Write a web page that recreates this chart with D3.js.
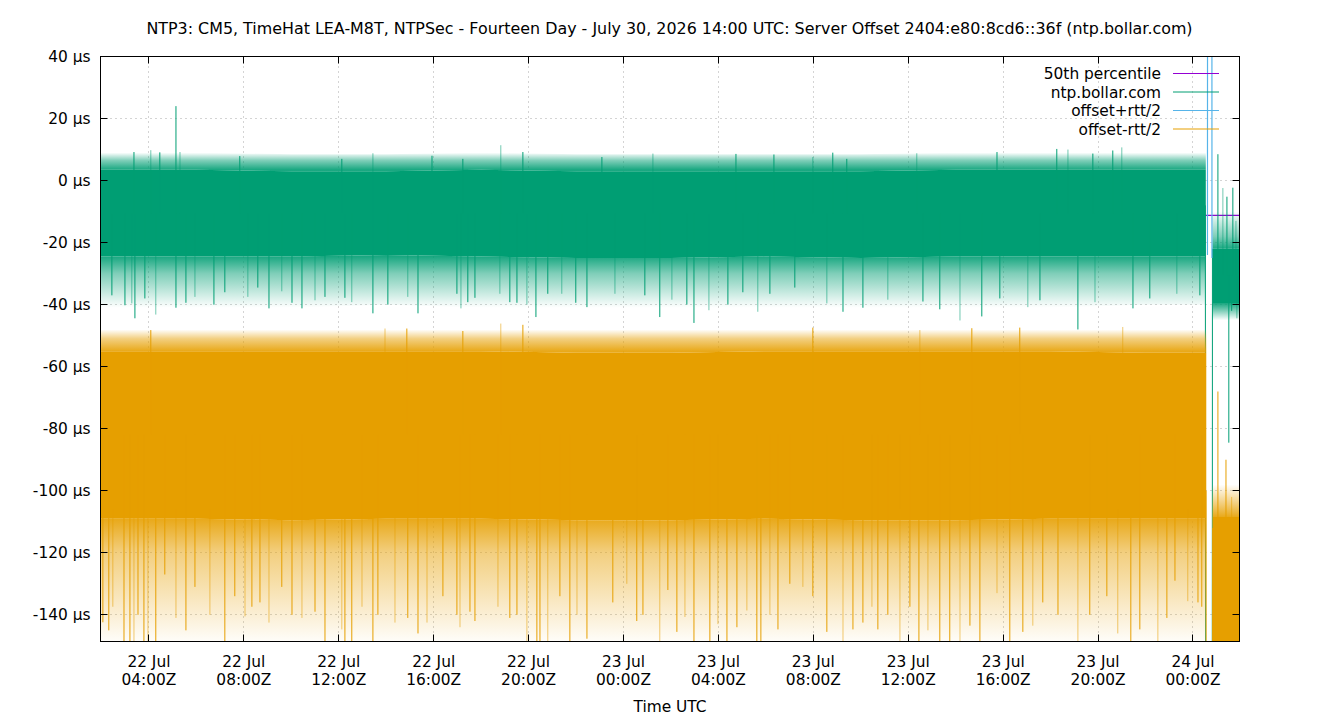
<!DOCTYPE html>
<html>
<head>
<meta charset="utf-8">
<script src="https://cdn.jsdelivr.net/npm/d3@7/dist/d3.min.js"></script>
<style>
body { margin: 0; background: #fff; }
svg text { font-family: "DejaVu Sans", sans-serif; font-size: 15.4px; fill: #000; }
svg text.title { font-size: 15.9px; }
</style>
</head>
<body>
<div id="chart"></div>
<script>
// 1: DATA (time = hours since 22 Jul 2026 00:00Z, values in µs)
const title = "NTP3: CM5, TimeHat LEA-M8T, NTPSec - Fourteen Day - July 30, 2026 14:00 UTC: Server Offset 2404:e80:8cd6::36f (ntp.bollar.com)";
const hourRange = [1.96, 49.96];
const yRange = [-148.6, 40];
const yTickValues = [40, 20, 0, -20, -40, -60, -80, -100, -120, -140];
const seriesNames = ["50th percentile", "ntp.bollar.com", "offset+rtt/2", "offset-rtt/2"];
const seriesColors = ["#9400d3", "#009e73", "#56b4e9", "#e69f00"];

const pct50 = -11.2;

// dense band of samples: [t, coreHi, coreLo, fringeHi, fringeLo, outerHi, outerLo]
const greenBand1 = [
  [1.96, 3.5, -24.5, 6.5, -30, 9, -41], [6, 3.5, -24.5, 6.5, -30, 9, -41], [10, 3, -24.5, 6, -30, 8.5, -41],
  [14, 3, -24, 6, -29.5, 8.5, -40], [18, 3.5, -24.5, 6.5, -30, 9, -41], [22, 3, -25, 6, -30.5, 8.5, -42],
  [26, 3, -25, 6, -30.5, 8.5, -42], [30, 3, -24.5, 6, -30, 8.5, -41], [34, 3, -25, 6, -30.5, 8.5, -42],
  [38, 3.5, -24.5, 6.5, -30, 9, -42], [42, 3.5, -24.5, 6.5, -30, 9, -41], [46, 3.5, -24.5, 6.5, -30, 9, -40],
  [48.54, 3.5, -24.5, 6.5, -30, 9, -40]
];
const greenBand2 = [[48.82, -22, -39.5, -18, -42, -10, -45], [49.96, -22, -39.5, -18, -42, -10, -45]];
const orangeBand1 = [
  [1.96, -55, -109, -51, -120, -48, -150], [6, -55, -109, -51, -120, -48, -150], [10, -55, -109.5, -51.5, -120, -48, -150],
  [14, -55, -109, -51, -120, -48, -150], [18, -55, -109, -51, -120, -48, -150], [22, -55.5, -109.5, -51.5, -121, -48, -152],
  [26, -55.5, -109.5, -51.5, -121, -48, -152], [30, -55, -109, -51, -120, -48, -150], [34, -55, -109.5, -51, -121, -48, -152],
  [38, -55, -109.5, -51, -121, -48, -152], [42, -55, -109, -51, -120, -48, -150], [46, -55.5, -109, -51.5, -120, -48, -150],
  [48.56, -55.5, -109, -51.5, -120, -48, -150]
];
const orangeBand2 = [[48.82, -108.5, -175, -104, -175, -98, -175], [49.96, -108.5, -175, -104, -175, -98, -175]];

// isolated excursions beyond the band: [t, value]
const greenSpikes = [
  [3.37, 9.2], [4.08, 9.8], [4.46, 9.1], [5.14, 24.0], [5.31, 9.2], [7.83, 7.9], [12.13, 7.0],
  [13.44, 8.8], [15.93, 8.0], [17.23, 7.0], [18.83, 11.4], [19.76, 9.2], [23.09, 7.6], [25.24, 8.7],
  [28.74, 8.6], [30.34, 8.4], [31.98, 7.6], [32.82, 9.0], [33.41, 7.0], [36.36, 8.8], [39.74, 9.2],
  [42.26, 10.2], [42.73, 10.0], [43.78, 8.7], [44.62, 9.7], [45.00, 10.7],
  [2.44, -37], [2.99, -40.2], [3.28, -39.6], [3.41, -44.4], [3.83, -38], [4.29, -43.2], [5.14, -41],
  [5.56, -39.4], [5.94, -37.5], [6.74, -40], [7.20, -36], [8.17, -37.5], [8.59, -34.5], [9.06, -41.2],
  [9.60, -35.7], [10.03, -39.4], [10.45, -41.2], [11.00, -38.6], [11.42, -37.5], [12.26, -37.8],
  [12.55, -39.2], [13.44, -42.8], [14.07, -40], [14.91, -37.5], [15.34, -42.8], [16.98, -36.5],
  [17.15, -41.2], [17.44, -39.2], [17.74, -37.8], [18.79, -36.5], [19.21, -39.2], [19.51, -39.4],
  [19.93, -40], [20.31, -44], [20.81, -36.5], [21.40, -36.5], [21.99, -39.4], [22.46, -40.8],
  [23.64, -36.5], [24.90, -37], [25.53, -44], [26.04, -38.4], [26.67, -40], [26.97, -45.9],
  [27.60, -41.8], [28.40, -40], [29.03, -36], [29.66, -42.3], [30.17, -36.5], [31.22, -34.5],
  [32.57, -39.6], [33.25, -42.3], [34.09, -41], [35.14, -38.4], [36.62, -39], [37.33, -41.5],
  [38.18, -45.1], [39.10, -43.8], [39.86, -38], [41.04, -40.8], [41.55, -38.6], [43.15, -48],
  [43.87, -39.2], [45.47, -41.2], [46.18, -38], [47.32, -36.5], [48.29, -37],
  [49.05, 8.5], [49.26, -2.4], [49.43, -5.2], [49.68, -2.3], [49.81, -13],
  [49.51, -84.5], [49.63, -42], [49.85, -44.4]
];
const orangeSpikes = [
  [4.08, -48.2], [13.95, -47.7], [14.87, -47.7], [17.23, -48.5], [18.83, -46.1], [19.76, -46.5],
  [31.98, -47.4], [36.49, -48.2], [38.68, -47.6], [40.70, -47.4], [45.04, -47.2],
  [49.05, -68], [49.39, -90], [49.63, -102],
  [2.06, -142.4], [2.31, -145], [2.48, -137.4], [2.95, -160], [3.20, -160], [3.37, -160], [3.54, -140],
  [3.79, -160], [3.96, -160], [4.29, -160], [4.67, -127], [5.14, -141], [5.56, -145], [5.94, -131],
  [6.57, -140], [7.20, -160], [7.62, -134], [8.05, -140.5], [8.34, -137.4], [8.68, -136], [9.06, -142.5],
  [9.60, -131], [10.03, -140], [10.45, -141], [11.00, -139], [11.42, -160], [12.13, -144.7], [12.26, -160],
  [12.55, -160], [12.98, -137.4], [13.44, -160], [13.65, -140], [14.37, -142.5], [14.91, -141],
  [15.34, -146], [15.72, -142.5], [16.39, -134], [16.98, -140], [17.11, -144], [17.53, -139],
  [17.74, -142], [18.71, -137.4], [19.21, -141], [19.51, -140], [19.93, -160], [20.35, -160],
  [20.48, -160], [20.81, -160], [21.32, -134], [21.74, -160], [22.04, -140], [22.46, -147.7],
  [23.55, -136], [24.14, -130], [24.56, -142], [24.82, -140], [25.53, -160], [25.87, -132],
  [26.25, -145.5], [26.59, -140.7], [26.97, -160], [27.64, -160], [27.98, -143], [28.36, -160],
  [28.78, -144], [29.20, -138.6], [29.62, -160], [29.79, -160], [30.17, -140], [30.51, -144.7],
  [31.01, -130], [31.56, -131], [31.98, -134], [32.57, -145.5], [33.25, -160], [33.67, -144.7],
  [34.09, -142.5], [34.47, -137.4], [34.72, -144.7], [35.14, -140], [35.65, -160], [36.07, -137.4],
  [36.45, -160], [36.83, -145], [37.33, -160], [37.75, -160], [38.18, -160], [38.60, -143.5],
  [39.02, -160], [39.74, -133], [40.28, -160], [40.83, -145.5], [41.25, -143.5], [41.67, -136],
  [42.31, -140], [43.15, -160], [43.65, -140], [44.37, -134], [44.83, -146], [45.38, -160],
  [45.76, -144.7], [46.52, -160], [46.90, -141], [47.24, -129], [47.78, -135.6], [48.21, -136],
  [48.37, -137.4]
];

// the jump near 24 Jul 00:40Z
const greenJump = [[48.52, -8], [48.57, -600], [48.79, -600], [48.82, -22]];
const blueJump = [[48.61, -24], [48.64, 900], [48.77, 900], [48.80, -25]];
const orangeJump = [[48.55, -100], [48.58, -600], [48.80, -600], [48.83, -112]];

// 2: LAYOUT
const margin = { top: 56, right: 100, bottom: 79, left: 100 };
const width = 1139;
const height = 585;

const svg = d3.select("#chart").append("svg")
  .attr("width", 1340).attr("height", 720);

const g = svg.append("g")
  .attr("transform", `translate(${margin.left + 0.5},${margin.top + 0.5})`);

const base = Date.UTC(2026, 6, 22, 0, 0);
const toDate = h => new Date(base + h * 3600e3);

const x = d3.scaleUtc().domain(hourRange.map(toDate)).range([0, width]);
const y = d3.scaleLinear().domain(yRange).range([height, 0]);
const xh = h => x(toDate(h));

const defs = svg.append("defs");
defs.append("clipPath").attr("id", "plotclip")
  .append("rect").attr("width", width).attr("height", height);

// 3: GRID
const xTicks = x.ticks(d3.utcHour.every(4));
const grid = g.append("g").attr("stroke", "#a8a8a8").attr("stroke-width", 1).attr("stroke-dasharray", "1,4");
grid.selectAll(".gx").data(xTicks).enter().append("line")
  .attr("x1", d => Math.round(x(d))).attr("x2", d => Math.round(x(d)))
  .attr("y1", 0).attr("y2", height);
grid.selectAll(".gy").data(yTickValues).enter().append("line")
  .attr("x1", 0).attr("x2", width)
  .attr("y1", d => Math.round(y(d))).attr("y2", d => Math.round(y(d)));

// 4: DATA
const plot = g.append("g").attr("clip-path", "url(#plotclip)");
const line = d3.line().x(d => xh(d[0])).y(d => y(d[1]));

plot.append("path").datum([[hourRange[0], pct50], [hourRange[1], pct50]])
  .attr("d", line).attr("fill", "none").attr("stroke", seriesColors[0]).attr("stroke-width", 1.3);

let gradId = 0;
// vertical fade from the band edge out to the furthest hairs
function fade(color, v0, v1, v2) {
  const id = "fade" + (gradId++);
  const gr = defs.append("linearGradient").attr("id", id)
    .attr("gradientUnits", "userSpaceOnUse")
    .attr("x1", 0).attr("x2", 0).attr("y1", y(v0)).attr("y2", y(v2));
  const mid = (v1 - v0) / (v2 - v0);
  gr.append("stop").attr("offset", 0).attr("stop-color", color).attr("stop-opacity", 0.9);
  gr.append("stop").attr("offset", mid).attr("stop-color", color).attr("stop-opacity", 0.5);
  gr.append("stop").attr("offset", 1).attr("stop-color", color).attr("stop-opacity", 0);
  return `url(#${id})`;
}

function drawBand(bands, spikes, jump, color) {
  const core = d3.area().x(d => xh(d[0])).y0(d => y(d[2])).y1(d => y(d[1]));
  const topHair = d3.area().x(d => xh(d[0])).y0(d => y(d[1])).y1(d => y(d[5]));
  const botHair = d3.area().x(d => xh(d[0])).y0(d => y(d[2])).y1(d => y(d[6]));
  bands.forEach(b => {
    const r = b[0];
    plot.append("path").datum(b).attr("d", topHair).attr("fill", fade(color, r[1], r[3], r[5]));
    plot.append("path").datum(b).attr("d", botHair).attr("fill", fade(color, r[2], r[4], r[6]));
    plot.append("path").datum(b).attr("d", core).attr("fill", color);
  });
  // anchor each excursion at the middle of the band it belongs to
  const mid = t => {
    const b = bands.find(s => t >= s[0][0] - 0.05 && t <= s[s.length - 1][0] + 0.05) || bands[0];
    return (b[0][1] + b[0][2]) / 2;
  };
  plot.selectAll(null).data(spikes).enter().append("line")
    .attr("x1", d => xh(d[0])).attr("x2", d => xh(d[0]))
    .attr("y1", d => y(mid(d[0]))).attr("y2", d => y(d[1]))
    .attr("stroke", color).attr("stroke-width", 1)
    .attr("opacity", (d, i) => i % 3 === 1 ? 0.55 : 1);
  plot.append("path").datum(jump).attr("d", line)
    .attr("fill", "none").attr("stroke", color).attr("stroke-width", 1);
}

drawBand([greenBand1, greenBand2], greenSpikes, greenJump, seriesColors[1]);
plot.append("path").datum(blueJump).attr("d", line)
  .attr("fill", "none").attr("stroke", seriesColors[2]).attr("stroke-width", 1.2);
drawBand([orangeBand1, orangeBand2], orangeSpikes, orangeJump, seriesColors[3]);

// 5: FRAME, TICKS, LABELS
g.append("rect").attr("width", width).attr("height", height)
  .attr("fill", "none").attr("stroke", "#000").attr("stroke-width", 1);

const ticks = g.append("g").attr("stroke", "#000").attr("stroke-width", 1);
xTicks.forEach(d => {
  const px = Math.round(x(d));
  ticks.append("line").attr("x1", px).attr("x2", px).attr("y1", height).attr("y2", height - 7);
  ticks.append("line").attr("x1", px).attr("x2", px).attr("y1", 0).attr("y2", 7);
});
yTickValues.forEach(d => {
  const py = Math.round(y(d));
  ticks.append("line").attr("x1", 0).attr("x2", 7).attr("y1", py).attr("y2", py);
  ticks.append("line").attr("x1", width).attr("x2", width - 7).attr("y1", py).attr("y2", py);
});

g.selectAll(".ylab").data(yTickValues).enter().append("text")
  .attr("x", -10).attr("y", d => y(d)).attr("dy", "0.36em")
  .attr("text-anchor", "end")
  .text(d => `${d} µs`);

const dayFmt = d3.utcFormat("%d %b");
const timeFmt = d3.utcFormat("%H:%MZ");
const xl = g.selectAll(".xlab").data(xTicks).enter().append("text")
  .attr("text-anchor", "middle");
xl.append("tspan").attr("x", d => x(d)).attr("y", height + 25).text(d => dayFmt(d));
xl.append("tspan").attr("x", d => x(d)).attr("y", height + 43).text(d => timeFmt(d));

g.append("text").attr("x", width / 2).attr("y", height + 70)
  .attr("text-anchor", "middle").text("Time UTC");

svg.append("text").attr("class", "title").attr("x", margin.left + width / 2).attr("y", 34)
  .attr("text-anchor", "middle").text(title);

// 6: LEGEND
const legend = svg.append("g");
seriesNames.forEach((name, i) => {
  const ly = 73.5 + i * 18.5;
  legend.append("text").attr("x", 1161).attr("y", ly).attr("dy", "0.36em")
    .attr("text-anchor", "end").text(name);
  legend.append("line").attr("x1", 1173).attr("x2", 1219).attr("y1", ly).attr("y2", ly)
    .attr("stroke", seriesColors[i]).attr("stroke-width", 1);
});
</script>
</body>
</html>
